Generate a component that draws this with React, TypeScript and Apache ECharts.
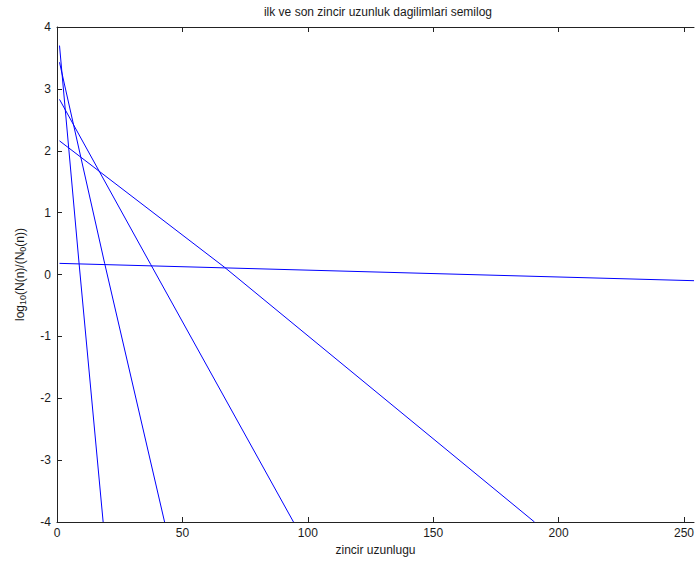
import React, { useEffect, useRef } from "react";
import * as echarts from "echarts";

// Fitted semilog lines: [chain length, log10(N/N0)]
const lineFlat: [number, number][] = [[1, 0.18], [254, -0.1]];
const lineB: [number, number][] = [[1, 2.16], [66.7, 0.12], [190.4, -4]];
const lineC: [number, number][] = [[1, 2.83], [37.4, 0.16], [94.3, -4]];
const lineD: [number, number][] = [[1, 3.43], [19, 0.18], [42.9, -4]];
const lineE: [number, number][] = [[1, 3.7], [8.8, 0.18], [18.4, -4]];

const xTicks = [0, 50, 100, 150, 200, 250];

const titleText = "ilk ve son zincir uzunluk dagilimlari semilog";
const xName = "zincir uzunlugu";

const FONT = "Liberation Sans, Arial, sans-serif";
const INK = "#1a1a1a";

export default function App() {
  const ref = useRef<HTMLDivElement>(null);

  useEffect(() => {
    if (!ref.current) return;
    const chart = echarts.init(ref.current, undefined, { renderer: "svg" });

    const mkSeries = (data: [number, number][]) => ({
      type: "line",
      data,
      symbol: "none",
      clip: true,
      lineStyle: { color: "#0000ff", width: 1 },
      itemStyle: { color: "#0000ff" },
      xAxisIndex: 0,
      yAxisIndex: 0,
    });

    chart.setOption({
      animation: false,
      backgroundColor: "#ffffff",
      textStyle: { fontFamily: FONT },
      grid: { left: 57, right: -3, top: 27, bottom: 42, containLabel: false },
      graphic: [
        {
          type: "text",
          x: 378,
          y: 12,
          style: {
            text: titleText,
            fontFamily: FONT,
            fontSize: 12,
            fill: INK,
            align: "center",
            verticalAlign: "middle",
          },
        },
      ],
      xAxis: [
        {
          type: "value",
          position: "bottom",
          min: 0,
          max: 254,
          name: xName,
          nameLocation: "middle",
          nameGap: 22,
          nameTextStyle: { fontFamily: FONT, fontSize: 12, color: INK },
          axisLine: { show: true, onZero: false, lineStyle: { color: "#222", width: 1 } },
          axisTick: {
            show: true,
            inside: true,
            length: 5,
            customValues: xTicks,
            lineStyle: { color: "#222" },
          },
          axisLabel: {
            show: true,
            customValues: xTicks,
            margin: 5,
            fontFamily: FONT,
            fontSize: 12,
            color: INK,
          },
          splitLine: { show: false },
        },
        {
          type: "value",
          position: "top",
          min: 0,
          max: 254,
          axisLine: { show: true, onZero: false, lineStyle: { color: "#222", width: 1 } },
          axisTick: {
            show: true,
            inside: true,
            length: 5,
            customValues: xTicks,
            lineStyle: { color: "#222" },
          },
          axisLabel: { show: false },
          splitLine: { show: false },
        },
      ],
      yAxis: [
        {
          type: "value",
          min: -4,
          max: 4,
          interval: 1,
          name: "log{sub|10}(N(n)/(N{sub|0}(n))",
          nameLocation: "middle",
          nameRotate: 90,
          nameGap: 30,
          nameTextStyle: {
            fontFamily: FONT,
            fontSize: 12,
            color: INK,
            rich: {
              sub: { fontFamily: FONT, fontSize: 9, color: INK, verticalAlign: "bottom", padding: [6, 0, 0, 0] },
            },
          },
          axisLine: { show: true, onZero: false, lineStyle: { color: "#222", width: 1 } },
          axisTick: { show: true, inside: true, length: 5, lineStyle: { color: "#222" } },
          axisLabel: { margin: 6, fontFamily: FONT, fontSize: 12, color: INK },
          splitLine: { show: false },
        },
      ],
      series: [lineFlat, lineB, lineC, lineD, lineE].map(mkSeries),
    });

    return () => chart.dispose();
  }, []);

  return (
    <div
      ref={ref}
      style={{ position: "absolute", left: 0, top: 0, width: 697, height: 564, background: "#fff" }}
    />
  );
}
